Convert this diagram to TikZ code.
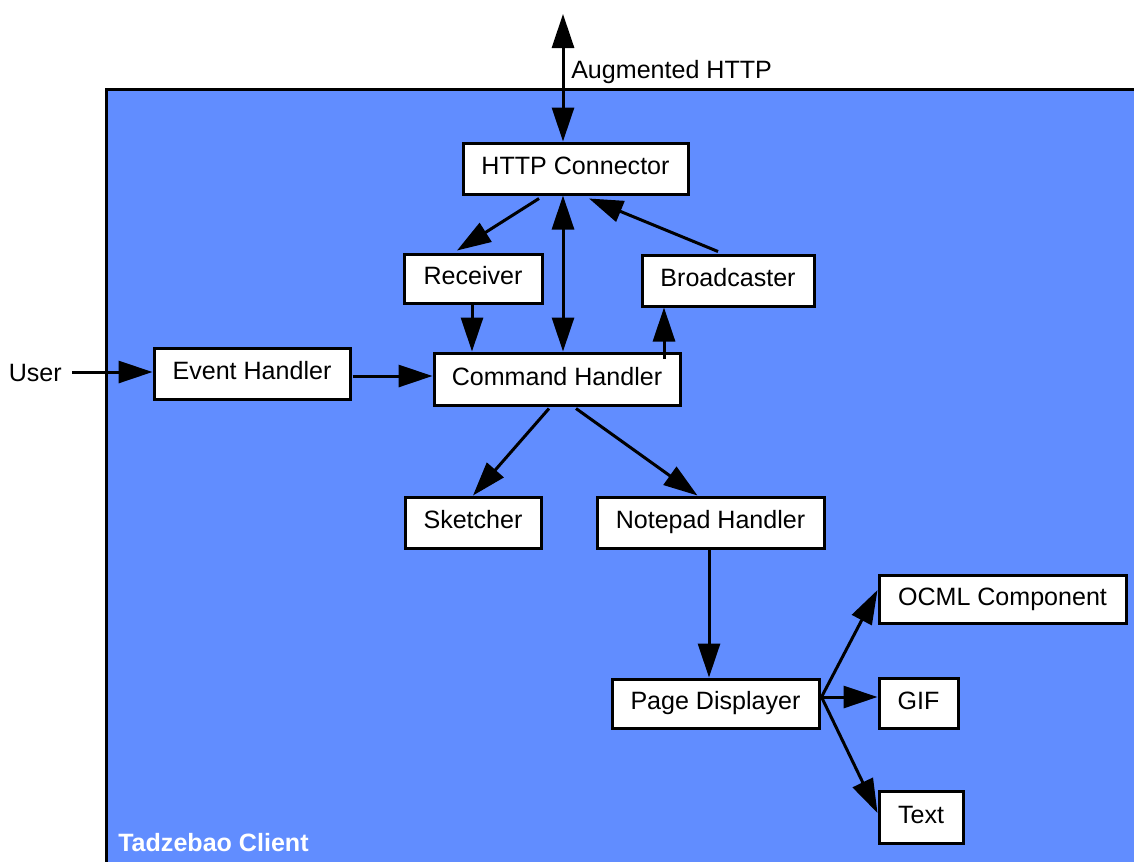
\documentclass[tikz,border=0pt]{standalone}
\usepackage{fontspec}
\setmainfont{Liberation Sans}
\usetikzlibrary{arrows.meta,calc}
\definecolor{bgblue}{RGB}{97,141,255}
\begin{document}
\begin{tikzpicture}[x=0.75pt,y=-0.75pt,
  box/.style={draw=black,fill=white,line width=2.25pt,inner sep=0pt,
    font=\fontsize{18.8}{22}\selectfont,text height=13.5pt,text depth=3.84pt},
  arr/.style={line width=2.25pt,-{Triangle[length=25.5pt,width=16.5pt]}},
  darr/.style={line width=2.25pt,{Triangle[length=25.5pt,width=16.5pt]}-{Triangle[length=25.5pt,width=16.5pt]}},
  lbl/.style={inner sep=0pt,font=\fontsize{18.8}{22}\selectfont}]
\useasboundingbox (0,0) rectangle (1134,861);
\clip (0,0) rectangle (1134,861);
\fill[white] (0,0) rectangle (1134,861);
\draw[fill=bgblue,line width=2.25pt] (106,89) rectangle (1145,875);
\node[lbl,anchor=base west,text=white,font=\fontsize{18.8}{22}\selectfont\bfseries] (client) at (118,851) {Tadzebao Client};

\node[box,minimum width=168.75pt,minimum height=38.25pt] (http) at (575.5,168.5) {HTTP Connector};
\node[box,minimum width=103.5pt,minimum height=36.75pt] (rec) at (473,278.5) {Receiver};
\node[box,minimum width=129pt,minimum height=38.25pt] (bc) at (728,280.5) {Broadcaster};
\node[box,minimum width=184.5pt,minimum height=39pt] (ch) at (557,379) {Command Handler};
\node[box,minimum width=147pt,minimum height=38.25pt] (eh) at (252,373.5) {Event Handler};
\node[box,minimum width=102pt,minimum height=38.25pt] (sk) at (473,522.5) {Sketcher};
\node[box,minimum width=170.25pt,minimum height=38.25pt] (np) at (710.5,522.5) {Notepad Handler};
\node[box,minimum width=155.25pt,minimum height=36.75pt] (pd) at (715.5,703.5) {Page Displayer};
\node[box,minimum width=185.25pt,minimum height=36pt] (ocml) at (1002.5,599) {OCML Component};
\node[box,minimum width=59.25pt,minimum height=37.5pt] (gif) at (918.5,703) {GIF};
\node[box,minimum width=63pt,minimum height=39pt] (txt) at (921,817) {Text};

\node[lbl,anchor=east] (user) at (62,373) {User};
\node[lbl,anchor=west] (aug) at (571,72) {Augmented HTTP};
\coordinate (top) at (563,14);

\draw[darr] (top) -- ($(http.north)+(-12.5,0)$);
\draw[arr] ($(http.south)+(-36.5,3)$) -- ($(rec.north)+(-16,-2)$);
\draw[darr] ($(ch.north)+(6,0)$) -- ($(http.south)+(-12.5,0)$);
\draw[arr] ($(bc.north)+(-10,-2)$) -- ($(http.south)+(13.5,3)$);
\draw[arr] ($(rec.south)+(-1,0)$) -- ($(ch.north)+(-85,0)$);
\draw[arr] ($(ch.north)+(107,7)$) -- ($(bc.south)+(-64,0)$);
\draw[arr] ($(user.east)+(10,-1)$) -- ($(eh.west)+(0,-1.5)$);
\draw[arr] ($(eh.east)+(1,2.5)$) -- ($(ch.west)+(0,-3)$);
\draw[arr] ($(ch.south)+(-8,2)$) -- (sk.north);
\draw[arr] ($(ch.south)+(19,2)$) -- ($(np.north)+(-13,0)$);
\draw[arr] ($(np.south)+(-1.5,0)$) -- ($(pd.north)+(-6.5,0)$);
\coordinate (pdo) at ($(pd.east)+(1,-6.5)$);
\draw[arr] (pdo) -- ($(ocml.west)+(0,-9)$);
\draw[arr] (pdo) -- ($(gif.west)+(0,-6)$);
\draw[arr] (pdo) -- ($(txt.west)+(0,-4)$);
\end{tikzpicture}
\end{document}
